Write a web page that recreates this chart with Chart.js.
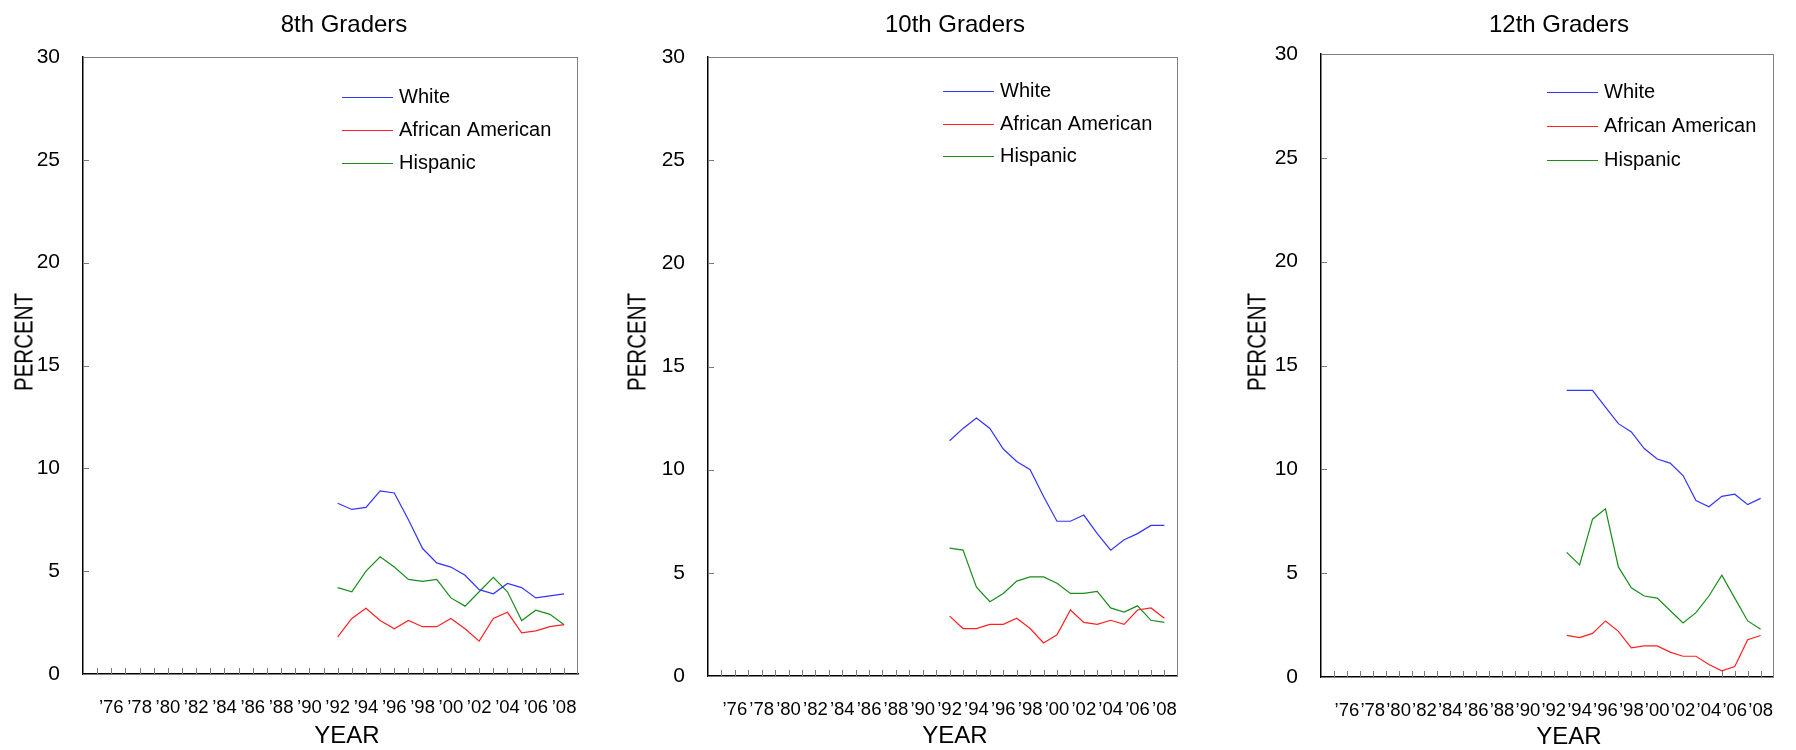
<!DOCTYPE html>
<html>
<head>
<meta charset="utf-8">
<script src="https://cdn.jsdelivr.net/npm/chart.js@4.4.1/dist/chart.umd.min.js"></script>
<style>
  html, body { margin: 0; padding: 0; background: #fff; }
  body { width: 1796px; height: 750px; position: relative; overflow: hidden; font-family: "Liberation Sans", Arial, sans-serif; color: #000; }
  canvas { position: absolute; top: 0; }
  .lbl { position: absolute; transform: translate(-50%, -50%); white-space: nowrap; }
  .title { font-size: 24px; }
  .xtitle { font-size: 24px; }
  .ytitle { font-size: 25px; transform: translate(-50%, -50%) rotate(-90deg) scale(0.82, 1); }
</style>
</head>
<body>
<canvas id="c8" width="600" height="750" style="left:0px"></canvas>
<canvas id="c10" width="600" height="750" style="left:600px"></canvas>
<canvas id="c12" width="596" height="750" style="left:1200px"></canvas>

<div class="lbl title" style="left:344px; top:24px">8th Graders</div>
<div class="lbl title" style="left:955px; top:24px">10th Graders</div>
<div class="lbl title" style="left:1559px; top:24px">12th Graders</div>

<div class="lbl ytitle" style="left:24px; top:342px">PERCENT</div>
<div class="lbl ytitle" style="left:637px; top:342px">PERCENT</div>
<div class="lbl ytitle" style="left:1257px; top:342px">PERCENT</div>

<div class="lbl xtitle" style="left:347px; top:735px">YEAR</div>
<div class="lbl xtitle" style="left:955px; top:735px">YEAR</div>
<div class="lbl xtitle" style="left:1569px; top:736px">YEAR</div>

<script>
// Years
const years8 = [1992, 1993, 1994, 1995, 1996, 1997, 1998, 1999, 2000, 2001, 2002, 2003, 2004, 2005, 2006, 2007, 2008];
const years10 = [1992, 1993, 1994, 1995, 1996, 1997, 1998, 1999, 2000, 2001, 2002, 2003, 2004, 2005, 2006, 2007, 2008];
const years12 = [1993, 1994, 1995, 1996, 1997, 1998, 1999, 2000, 2001, 2002, 2003, 2004, 2005, 2006, 2007, 2008];

// 8th graders
const white8 = [8.3, 8.0, 8.1, 8.9, 8.8, 7.5, 6.1, 5.4, 5.2, 4.8, 4.1, 3.9, 4.4, 4.2, 3.7, 3.8, 3.9];
const black8 = [1.8, 2.7, 3.2, 2.6, 2.2, 2.6, 2.3, 2.3, 2.7, 2.2, 1.6, 2.7, 3.0, 2.0, 2.1, 2.3, 2.4];
const hisp8 = [4.2, 4.0, 5.0, 5.7, 5.2, 4.6, 4.5, 4.6, 3.7, 3.3, 4.0, 4.7, 4.0, 2.6, 3.1, 2.9, 2.4];

// 10th graders
const white10 = [11.4, 12.0, 12.5, 12.0, 11.0, 10.4, 10.0, 8.7, 7.5, 7.5, 7.8, 6.9, 6.1, 6.6, 6.9, 7.3, 7.3];
const black10 = [2.9, 2.3, 2.3, 2.5, 2.5, 2.8, 2.3, 1.6, 2.0, 3.2, 2.6, 2.5, 2.7, 2.5, 3.2, 3.3, 2.8];
const hisp10 = [6.2, 6.1, 4.3, 3.6, 4.0, 4.6, 4.8, 4.8, 4.5, 4.0, 4.0, 4.1, 3.3, 3.1, 3.4, 2.7, 2.6];

// 12th graders
const white12 = [13.8, 13.8, 13.8, 13.0, 12.2, 11.8, 11.0, 10.5, 10.3, 9.7, 8.5, 8.2, 8.7, 8.8, 8.3, 8.6];
const black12 = [2.0, 1.9, 2.1, 2.7, 2.2, 1.4, 1.5, 1.5, 1.2, 1.0, 1.0, 0.6, 0.3, 0.5, 1.8, 2.0];
const hisp12 = [6.0, 5.4, 7.6, 8.1, 5.3, 4.3, 3.9, 3.8, 3.2, 2.6, 3.1, 3.9, 4.9, 3.8, 2.7, 2.3];

// Axis
const seriesNames = ['White', 'African American', 'Hispanic'];
const seriesColors = ['#3333ff', '#ff2020', '#1a8c1a'];
const labelYears = [1976, 1978, 1980, 1982, 1984, 1986, 1988, 1990, 1992, 1994, 1996, 1998, 2000, 2002, 2004, 2006, 2008];
const yTicks = [0, 5, 10, 15, 20, 25, 30];

function pairs(xs, ys) {
    return xs.map((x, i) => ({ x: x, y: ys[i] }));
}

// Frame, inward tick marks and legend
const framePlugin = {
    id: 'frame',
    afterDraw(chart, args, opts) {
        const ctx = chart.ctx;
        const area = chart.chartArea;
        const xs = chart.scales.x;
        const ys = chart.scales.y;
        ctx.save();

        // top and right border
        ctx.strokeStyle = '#808080';
        ctx.lineWidth = 1;
        ctx.beginPath();
        ctx.moveTo(area.left, Math.round(area.top) + 0.5);
        ctx.lineTo(area.right, Math.round(area.top) + 0.5);
        ctx.moveTo(Math.round(area.right) - 0.5, area.top);
        ctx.lineTo(Math.round(area.right) - 0.5, area.bottom);
        ctx.stroke();

        // tick marks pointing inward
        ctx.strokeStyle = '#7a7a7a';
        ctx.beginPath();
        for (let yr = xs.min + 1; yr < xs.max; yr++) {
            const px = Math.round(xs.getPixelForValue(yr)) + 0.5;
            ctx.moveTo(px, area.bottom);
            ctx.lineTo(px, area.bottom - 6);
        }
        yTicks.forEach(v => {
            const py = Math.round(ys.getPixelForValue(v)) + 0.5;
            ctx.moveTo(area.left, py);
            ctx.lineTo(area.left + 6, py);
        });
        ctx.stroke();

        // legend
        ctx.font = '20px "Liberation Sans", Arial, sans-serif';
        ctx.textBaseline = 'middle';
        ctx.fillStyle = '#000';
        chart.data.datasets.forEach((ds, i) => {
            const y = Math.round(opts.y + i * opts.gap) + 0.5;
            ctx.strokeStyle = ds.borderColor;
            ctx.lineWidth = 1.2;
            ctx.beginPath();
            ctx.moveTo(opts.x, y);
            ctx.lineTo(opts.x + 51, y);
            ctx.stroke();
            ctx.fillText(ds.label, opts.x + 57, y);
        });
        ctx.restore();
    }
};

function makePanel(id, years, white, black, hisp, layout) {
    const values = [white, black, hisp];
    new Chart(document.getElementById(id), {
        type: 'line',
        data: {
            datasets: values.map((v, i) => ({
                label: seriesNames[i],
                data: pairs(years, v),
                borderColor: seriesColors[i],
                borderWidth: 1.2,
                pointRadius: 0,
                tension: 0,
                fill: false
            }))
        },
        options: {
            responsive: false,
            animation: false,
            layout: { padding: { top: layout.top, right: layout.right, left: 0, bottom: 0 } },
            plugins: {
                legend: { display: false },
                tooltip: { enabled: false },
                frame: layout.legend
            },
            scales: {
                x: {
                    type: 'linear',
                    min: 1974,
                    max: 2009,
                    afterFit: s => { s.height = layout.xHeight; },
                    afterBuildTicks: s => { s.ticks = labelYears.map(v => ({ value: v })); },
                    ticks: {
                        autoSkip: false,
                        maxRotation: 0,
                        padding: 23,
                        color: '#000',
                        font: { family: '"Liberation Sans", Arial, sans-serif', size: 18.5 },
                        callback: v => '\u2019' + String(v).slice(2)
                    },
                    grid: { drawOnChartArea: false, drawTicks: false },
                    border: { color: '#000', width: 1.5 }
                },
                y: {
                    min: 0,
                    max: 30,
                    afterFit: s => { s.width = layout.yWidth; },
                    afterBuildTicks: s => { s.ticks = yTicks.map(v => ({ value: v })); },
                    ticks: {
                        padding: 23,
                        color: '#000',
                        font: { family: '"Liberation Sans", Arial, sans-serif', size: 21 }
                    },
                    grid: { drawOnChartArea: false, drawTicks: false },
                    border: { color: '#000', width: 1.5 }
                }
            }
        },
        plugins: [framePlugin]
    });
}

makePanel('c8', years8, white8, black8, hisp8,
    { top: 57, right: 20, yWidth: 83, xHeight: 76, legend: { x: 342, y: 97, gap: 33 } });
makePanel('c10', years10, white10, black10, hisp10,
    { top: 57, right: 10, yWidth: 108, xHeight: 74, legend: { x: 343, y: 91, gap: 32.7 } });
makePanel('c12', years12, white12, black12, hisp12,
    { top: 54, right: 1, yWidth: 121, xHeight: 73, legend: { x: 347, y: 92, gap: 33.8 } });
</script>
</body>
</html>
